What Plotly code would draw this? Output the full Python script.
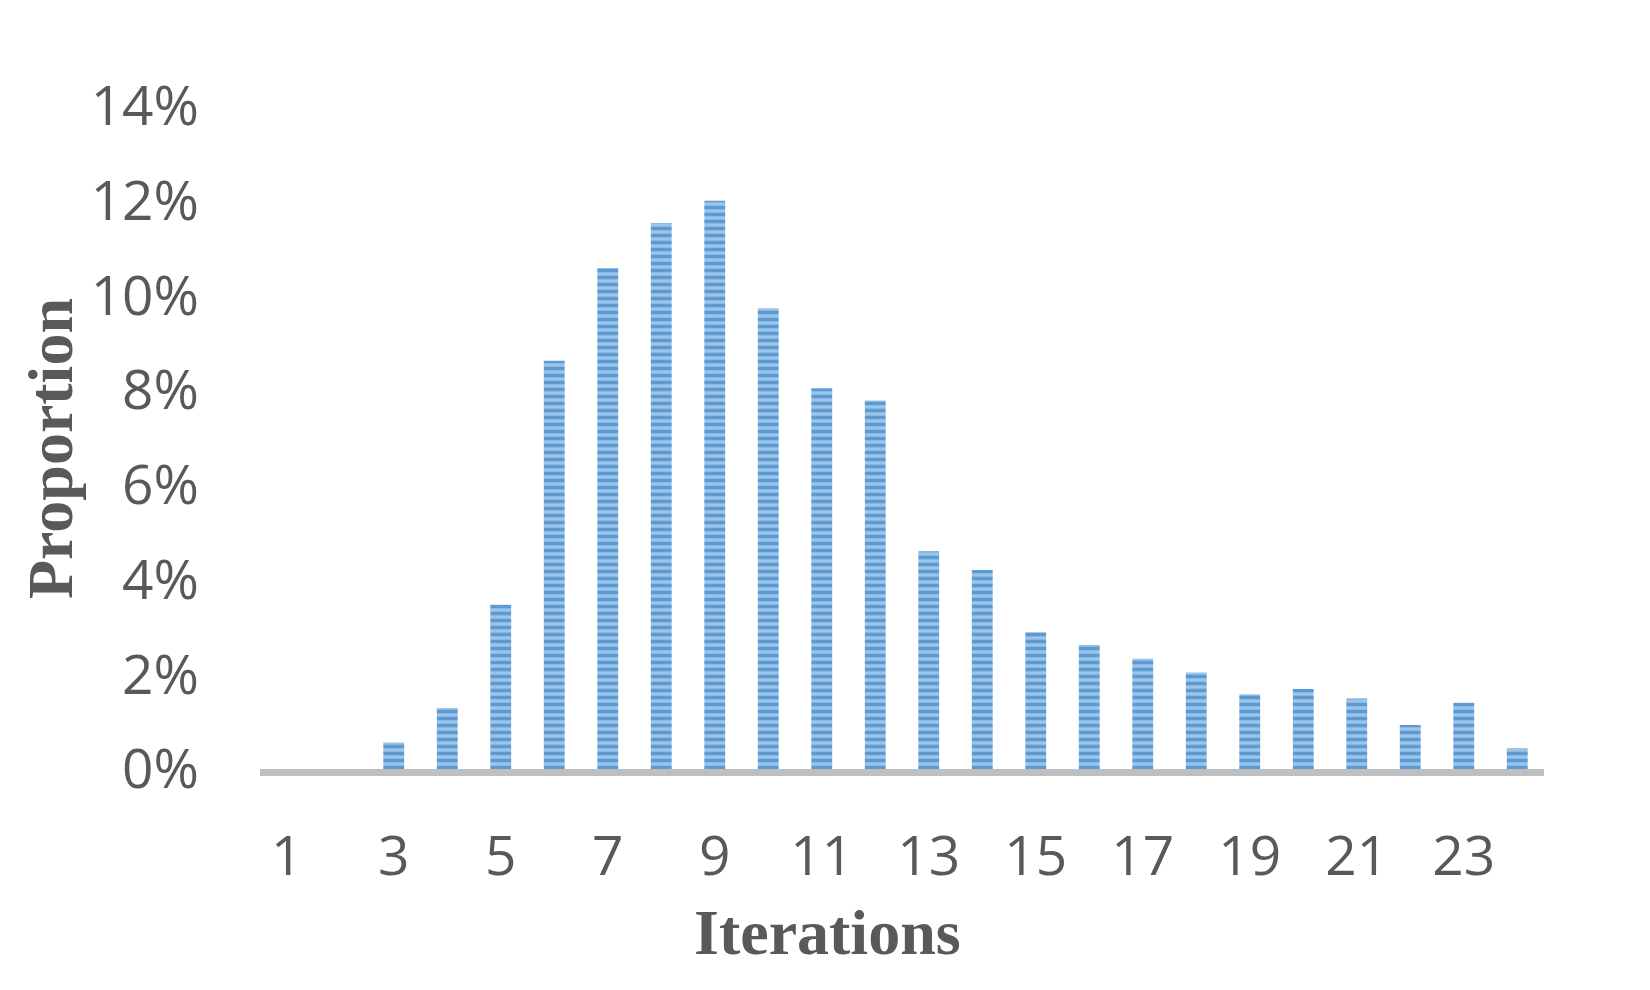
import plotly.graph_objects as go

iterations = list(range(1, 25))
proportion = [0.0, 0.0, 0.0056, 0.0129, 0.0347, 0.0862, 0.1058, 0.1153, 0.1200,
              0.0973, 0.0804, 0.0778, 0.0460, 0.0420, 0.0289, 0.0262, 0.0233,
              0.0204, 0.0158, 0.0169, 0.0149, 0.0093, 0.0140, 0.0044]
x_ticks = list(range(1, 25, 2))
y_ticks = [0, 0.02, 0.04, 0.06, 0.08, 0.10, 0.12, 0.14]

fig = go.Figure()
fig.add_trace(go.Bar(
    x=iterations, y=proportion, width=0.39,
    marker=dict(
        color="#9DC3E6",
        line=dict(width=0),
        pattern=dict(shape="-", fgcolor="#5B9BD5", bgcolor="#9DC3E6",
                     size=7, solidity=0.5, fillmode="replace"),
    ),
))

gray = "#595959"
fig.update_layout(
    width=1650, height=990,
    paper_bgcolor="white", plot_bgcolor="white",
    margin=dict(l=252, r=114, t=98, b=229),
    showlegend=False,
    font=dict(family="Open Sans", color=gray),
    xaxis=dict(
        range=[0.5, 24.5], tickmode="array", tickvals=x_ticks,
        ticktext=[str(v) for v in x_ticks],
        tickfont=dict(size=55, color=gray, family="Open Sans"),
        showgrid=False, zeroline=False,
        showline=True, linecolor="#BFBFBF", linewidth=7,
        ticks="", ticklabelstandoff=33,
    ),
    yaxis=dict(
        range=[0, 0.14], tickmode="array", tickvals=y_ticks,
        ticktext=[f"{int(round(v*100))}%" for v in y_ticks],
        tickfont=dict(size=55, color=gray, family="Open Sans"),
        showgrid=False, zeroline=False, showline=False,
        ticks="", ticklabelstandoff=60,
    ),
    annotations=[
        dict(text="<b>Iterations</b>", xref="paper", yref="paper",
             x=0.442, y=-0.246, showarrow=False, xanchor="center", yanchor="middle",
             font=dict(family="Liberation Serif", size=64, color=gray)),
        dict(text="<b>Proportion</b>", xref="paper", yref="paper",
             x=-0.1636, y=0.484, showarrow=False, xanchor="center", yanchor="middle",
             textangle=-90,
             font=dict(family="Liberation Serif", size=64, color=gray)),
    ],
)

fig.write_html("out.html")
